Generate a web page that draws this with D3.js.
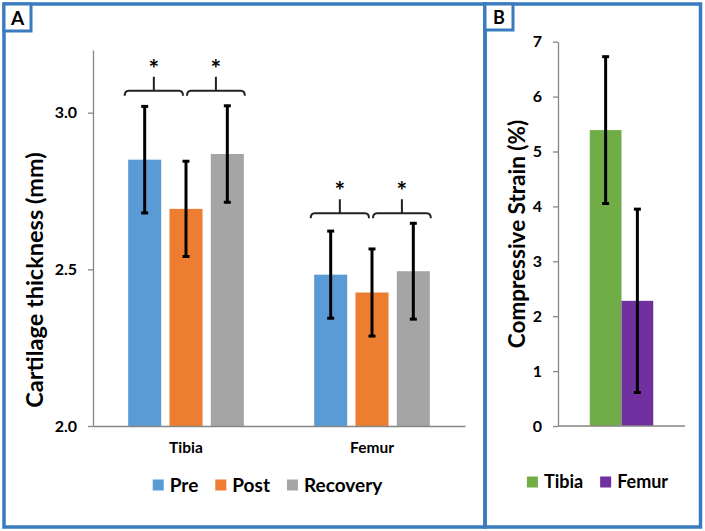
<!DOCTYPE html>
<html>
<head>
<meta charset="utf-8">
<script src="https://cdn.jsdelivr.net/npm/d3@7"></script>
<style>
  body { margin: 0; background: #fff; }
  text { font-family: Lato, "Open Sans", sans-serif; font-weight: bold; fill: #000; }
</style>
</head>
<body>
<svg id="fig" width="705" height="531"></svg>
<script>
// panel A: cartilage thickness
var categories = ["Tibia", "Femur"];
var seriesA = ["Pre", "Post", "Recovery"];
var preMean = [2.85, 2.483];
var preErr = [0.17, 0.139];
var postMean = [2.693, 2.426];
var postErr = [0.152, 0.139];
var recMean = [2.868, 2.494];
var recErr = [0.154, 0.153];
var yTicksA = [2.0, 2.5, 3.0];
var bracketLevel = [3.07, 2.679];   // height of the "*" brackets, per category

// panel B: compressive strain
var bones = ["Tibia", "Femur"];
var strainMean = [5.39, 2.28];
var strainErr = [1.337, 1.67];
var yTicksB = [0, 1, 2, 3, 4, 5, 6, 7];

var colorsA = ["#5b9bd5", "#ed7d31", "#a5a5a5"];
var colorsB = ["#70ad47", "#7030a0"];
var frame = "#3a7bbf";
var axisGray = "#868686";

var svg = d3.select("#fig");

// ---------- panel frames ----------
svg.append("rect").attr("x", 4).attr("y", 4).attr("width", 481).attr("height", 523)
  .attr("fill", "none").attr("stroke", frame).attr("stroke-width", 3.5);
svg.append("rect").attr("x", 485).attr("y", 4).attr("width", 215.5).attr("height", 523)
  .attr("fill", "none").attr("stroke", frame).attr("stroke-width", 3.5);
svg.append("rect").attr("x", 4).attr("y", 4).attr("width", 27).attr("height", 27)
  .attr("fill", "#fff").attr("stroke", frame).attr("stroke-width", 3);
svg.append("rect").attr("x", 485).attr("y", 4).attr("width", 28).attr("height", 26)
  .attr("fill", "#fff").attr("stroke", frame).attr("stroke-width", 3);
svg.append("text").attr("x", 17.5).attr("y", 24.5).attr("text-anchor", "middle")
  .style("font-size", "19px").text("A");
svg.append("text").attr("x", 499).attr("y", 23.5).attr("text-anchor", "middle")
  .style("font-size", "18px").text("B");

// ---------- panel A ----------
var tableA = categories.map(function (c, i) {
  return {
    cat: c,
    vals: [
      {s: "Pre", m: preMean[i], e: preErr[i]},
      {s: "Post", m: postMean[i], e: postErr[i]},
      {s: "Recovery", m: recMean[i], e: recErr[i]}
    ]
  };
});

var yA = d3.scaleLinear().domain([2.0, 3.2]).range([426, 50]);
var x0 = d3.scaleBand().domain(categories).range([93, 465]);
var half = x0.bandwidth() * 0.311;
var x1 = d3.scaleBand().domain(seriesA).range([-half, half]).paddingInner(0.2);
var colA = d3.scaleOrdinal().domain(seriesA).range(colorsA);

var groups = svg.append("g").selectAll("g").data(tableA).enter().append("g")
  .attr("transform", function (d) { return "translate(" + (x0(d.cat) + x0.bandwidth() / 2) + ",0)"; });

groups.selectAll("rect").data(function (d) { return d.vals; }).enter().append("rect")
  .attr("x", function (d) { return x1(d.s); })
  .attr("y", function (d) { return yA(d.m); })
  .attr("width", x1.bandwidth())
  .attr("height", function (d) { return yA(2.0) - yA(d.m); })
  .style("fill", function (d) { return colA(d.s); });

function errorBars(sel, xf, y) {
  var eb = sel.append("g");
  eb.append("line")
    .attr("x1", xf).attr("x2", xf)
    .attr("y1", function (d) { return y(d.m + d.e); })
    .attr("y2", function (d) { return y(d.m - d.e); });
  eb.append("line")
    .attr("x1", function (d) { return xf(d) - 3.5; }).attr("x2", function (d) { return xf(d) + 3.5; })
    .attr("y1", function (d) { return y(d.m + d.e); })
    .attr("y2", function (d) { return y(d.m + d.e); });
  eb.append("line")
    .attr("x1", function (d) { return xf(d) - 3.5; }).attr("x2", function (d) { return xf(d) + 3.5; })
    .attr("y1", function (d) { return y(d.m - d.e); })
    .attr("y2", function (d) { return y(d.m - d.e); });
  eb.selectAll("line").style("stroke", "#000").style("stroke-width", 3);
}

groups.selectAll("g.err").data(function (d) { return d.vals; }).enter().append("g")
  .attr("class", "err")
  .call(errorBars, function (d) { return x1(d.s) + x1.bandwidth() / 2; }, yA);

// significance brackets
function bracket(x1p, x2p, yb) {
  var mid = (x1p + x2p) / 2;
  return "M" + x1p + "," + (yb + 5) + "Q" + x1p + "," + yb + " " + (x1p + 4) + "," + yb +
    "H" + (x2p - 4) + "Q" + x2p + "," + yb + " " + x2p + "," + (yb + 5) +
    "M" + mid + "," + yb + "V" + (yb - 14);
}
var brk = svg.append("g");
tableA.forEach(function (d, i) {
  var c = x0(d.cat) + x0.bandwidth() / 2;
  var cx = function (s) { return c + x1(s) + x1.bandwidth() / 2; };
  var yb = yA(bracketLevel[i]);
  var spans = [[cx("Pre") - 20, cx("Post") - 3], [cx("Post") + 1, cx("Recovery") + 17.5]];
  spans.forEach(function (sp) {
    brk.append("path").attr("d", bracket(sp[0], sp[1], yb))
      .attr("fill", "none").attr("stroke", "#222").attr("stroke-width", 2);
    brk.append("text").attr("x", (sp[0] + sp[1]) / 2).attr("y", yb - 13)
      .attr("text-anchor", "middle").style("font-size", "25px").text("*");
  });
});

// axes A
var axA = svg.append("g").attr("transform", "translate(93,0)")
  .call(d3.axisLeft(yA).tickValues(yTicksA).tickFormat(d3.format(".1f")).tickSize(5).tickSizeOuter(0).tickPadding(11));
var axXA = svg.append("g").attr("transform", "translate(0,426)")
  .call(d3.axisBottom(x0).tickSize(0).tickPadding(16));
[axA, axXA].forEach(function (a) {
  a.select(".domain").attr("stroke", axisGray).attr("stroke-width", 1.3);
  a.selectAll(".tick line").attr("stroke", axisGray).attr("stroke-width", 1.3);
  a.selectAll("text").style("font-family", "Lato, sans-serif").style("font-weight", "bold").attr("fill", "#000");
});
axA.selectAll("text").style("font-size", "16px");
axXA.selectAll("text").style("font-size", "15.5px");

svg.append("text").attr("transform", "translate(43,280) rotate(-90)")
  .attr("text-anchor", "middle").style("font-size", "23.5px").text("Cartilage thickness (mm)");

// legend A
function legend(labels, colors, cx, cy, fs) {
  var g = svg.append("g");
  var xpos = 0;
  labels.forEach(function (l, i) {
    g.append("rect").attr("x", xpos).attr("y", cy - 5.5).attr("width", 11).attr("height", 11)
      .style("fill", colors[i]);
    var t = g.append("text").attr("x", xpos + 17).attr("y", cy).attr("dy", "0.35em")
      .style("font-size", fs + "px").text(l);
    xpos += 17 + t.node().getComputedTextLength() + 17;
  });
  var w = xpos - 17;
  g.attr("transform", "translate(" + (cx - w / 2) + ",0)");
}
legend(seriesA, colorsA, 267.5, 485, 19);

// ---------- panel B ----------
var tableB = bones.map(function (b, i) { return {s: b, m: strainMean[i], e: strainErr[i]}; });
var yB = d3.scaleLinear().domain([0, 7]).range([426, 41.7]);
var xB = d3.scaleBand().domain(bones).range([558, 685]).paddingOuter(1);

svg.append("g").selectAll("rect").data(tableB).enter().append("rect")
  .attr("x", function (d) { return xB(d.s); })
  .attr("y", function (d) { return yB(d.m); })
  .attr("width", xB.bandwidth())
  .attr("height", function (d) { return yB(0) - yB(d.m); })
  .style("fill", function (d, i) { return colorsB[i]; });

svg.append("g").selectAll("g").data(tableB).enter().append("g")
  .call(errorBars, function (d) { return xB(d.s) + xB.bandwidth() / 2; }, yB);

var axB = svg.append("g").attr("transform", "translate(558,0)")
  .call(d3.axisLeft(yB).tickValues(yTicksB).tickFormat(d3.format("d")).tickSize(5).tickSizeOuter(0).tickPadding(11));
svg.append("line").attr("x1", 558).attr("x2", 685).attr("y1", yB(0)).attr("y2", yB(0))
  .attr("stroke", axisGray).attr("stroke-width", 1.3);
axB.select(".domain").attr("stroke", axisGray).attr("stroke-width", 1.3);
axB.selectAll(".tick line").attr("stroke", axisGray).attr("stroke-width", 1.3);
axB.selectAll("text").style("font-family", "Lato, sans-serif").style("font-weight", "bold")
  .style("font-size", "16px").attr("fill", "#000");

svg.append("text").attr("transform", "translate(525,234) rotate(-90)")
  .attr("text-anchor", "middle").style("font-size", "22.5px").text("Compressive Strain (%)");

legend(bones, colorsB, 597.5, 482, 18);
</script>
</body>
</html>
